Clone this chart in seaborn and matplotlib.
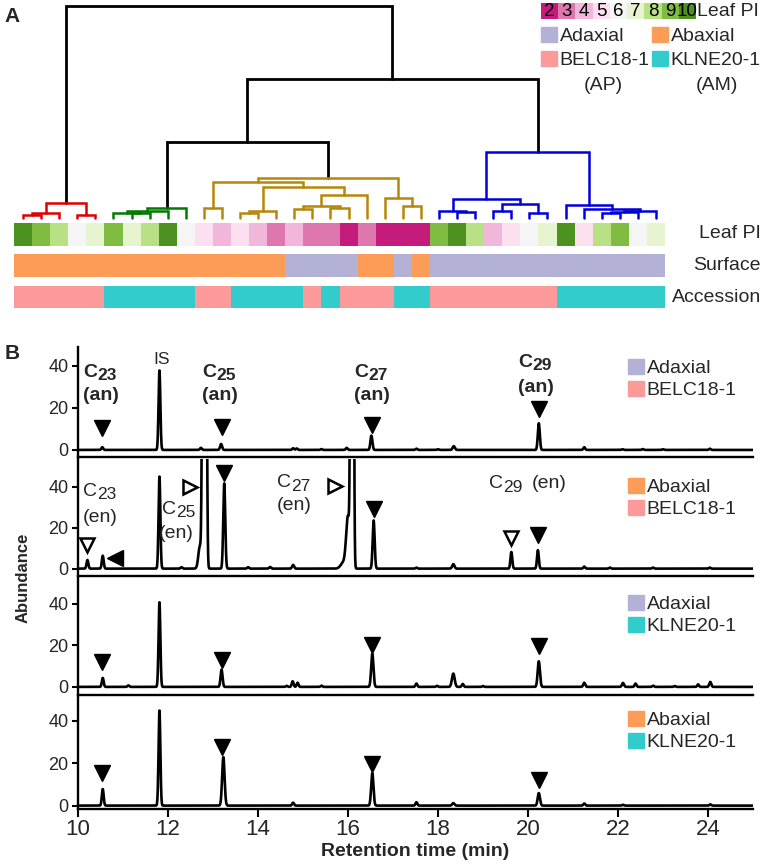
import matplotlib.pyplot as plt
import numpy as np
import seaborn as sns
from matplotlib.colors import ListedColormap
from matplotlib.patches import Patch
from matplotlib.transforms import offset_copy

# ---------------- panel A data ----------------
leaf_pi = [10, 9, 8, 6, 7, 9, 7, 8, 10, 6, 5, 4, 5, 4, 3, 4, 3, 3, 2, 3, 2, 2, 2,
           9, 10, 8, 4, 5, 6, 7, 10, 5, 8, 9, 6, 7]
surface = ['Abaxial', 'Abaxial', 'Abaxial', 'Abaxial', 'Abaxial', 'Abaxial', 'Abaxial',
           'Abaxial', 'Abaxial', 'Abaxial', 'Abaxial', 'Abaxial', 'Abaxial', 'Abaxial',
           'Abaxial', 'Adaxial', 'Adaxial', 'Adaxial', 'Adaxial', 'Abaxial', 'Abaxial',
           'Adaxial', 'Abaxial', 'Adaxial', 'Adaxial', 'Adaxial', 'Adaxial', 'Adaxial',
           'Adaxial', 'Adaxial', 'Adaxial', 'Adaxial', 'Adaxial', 'Adaxial', 'Adaxial',
           'Adaxial']
accession = ['BELC18-1', 'BELC18-1', 'BELC18-1', 'BELC18-1', 'BELC18-1',
             'KLNE20-1', 'KLNE20-1', 'KLNE20-1', 'KLNE20-1', 'KLNE20-1',
             'BELC18-1', 'BELC18-1', 'KLNE20-1', 'KLNE20-1', 'KLNE20-1', 'KLNE20-1',
             'BELC18-1', 'KLNE20-1', 'BELC18-1', 'BELC18-1', 'BELC18-1',
             'KLNE20-1', 'KLNE20-1', 'BELC18-1', 'BELC18-1', 'BELC18-1', 'BELC18-1',
             'BELC18-1', 'BELC18-1', 'BELC18-1', 'KLNE20-1', 'KLNE20-1', 'KLNE20-1',
             'KLNE20-1', 'KLNE20-1', 'KLNE20-1']

# linkage: leaves are 0-35, merge k creates node 36+k
link_left = [0, 36, 3, 37, 6, 5, 41, 42, 10, 12, 45, 15, 17, 47, 49, 46, 44, 21, 20, 52,
             24, 23, 26, 28, 58, 57, 32, 62, 63, 31, 30, 61, 43, 68, 39]
link_right = [1, 2, 4, 38, 7, 40, 8, 9, 11, 13, 14, 16, 18, 48, 19, 50, 51, 22, 53, 54,
              25, 56, 27, 29, 59, 60, 33, 34, 35, 64, 65, 66, 55, 67, 69]
link_height = [3.0, 4.7, 3.0, 14.7, 5.0, 5.5, 7.3, 9.7, 10.3, 5.3, 7.3, 8.7, 9.7, 12.3,
               23.0, 30.7, 35.7, 12.3, 19.7, 39.7, 6.5, 7.3, 7.3, 4.7, 14.0, 19.0, 5.5,
               6.5, 7.5, 9.0, 13.0, 66.3, 76.0, 139.0, 212.0]
cut_height = 70

pi_levels = [2, 3, 4, 5, 6, 7, 8, 9, 10]
pi_colors = ['#c51b7d', '#de77ae', '#f1b6da', '#fde0ef', '#f5f5f5',
             '#e6f5d0', '#b8e186', '#7fbc41', '#4d9221']
cluster_colors = ['#dd0000', '#007a00', '#b8860b', '#0000dd']
surface_colors = {'Adaxial': '#b4b1d6', 'Abaxial': '#fc9c56'}
accession_colors = {'BELC18-1': '#fb9a99', 'KLNE20-1': '#33cccc'}

# ---------------- panel B data (retention time, height, peak width) ----------------
p1_rt = [10.54, 11.81, 12.73, 13.18, 14.78, 14.86, 15.41, 15.97, 16.52, 17.52, 18.0,
         18.35, 20.24, 21.25, 22.1, 22.55, 23.0, 24.04]
p1_h = [1.3, 37.8, 1.0, 2.8, 0.8, 0.7, 0.4, 1.0, 6.8, 0.6, 0.3, 1.8, 12.7, 1.3, 0.3,
        0.4, 0.3, 0.6]
p1_w = [0.02, 0.02, 0.02, 0.022, 0.02, 0.02, 0.02, 0.02, 0.022, 0.02, 0.02, 0.025,
        0.022, 0.02, 0.02, 0.02, 0.02, 0.02]

p2_rt = [10.21, 10.55, 11.81, 12.3, 12.71, 12.78, 12.84, 13.25, 13.78, 14.27, 14.78,
         15.9, 16.0, 16.07, 16.11, 16.57, 17.52, 18.34, 19.63, 20.22, 21.25, 21.82,
         22.78, 24.04]
p2_h = [4.2, 6.3, 44.9, 0.7, 11.0, 200.0, 200.0, 41.6, 0.7, 0.8, 1.8, 3.0, 25.0, 250.0,
        250.0, 23.5, 0.5, 2.2, 8.1, 9.0, 1.0, 0.5, 0.5, 0.5]
p2_w = [0.02, 0.02, 0.02, 0.02, 0.035, 0.02, 0.02, 0.022, 0.02, 0.02, 0.022, 0.06,
        0.04, 0.018, 0.018, 0.022, 0.02, 0.025, 0.02, 0.02, 0.02, 0.02, 0.02, 0.02]

p3_rt = [10.55, 11.12, 11.81, 13.19, 14.64, 14.77, 14.88, 15.41, 16.54, 17.52, 17.98,
         18.34, 18.55, 19.0, 20.24, 21.25, 22.11, 22.39, 22.78, 23.26, 23.78, 24.05]
p3_h = [4.3, 0.7, 40.7, 8.3, 0.5, 2.7, 2.0, 0.6, 16.0, 1.6, 0.5, 6.4, 1.4, 0.4, 12.3,
        2.0, 1.9, 1.6, 0.6, 0.4, 1.2, 2.4]
p3_w = [0.02, 0.02, 0.02, 0.022, 0.02, 0.02, 0.02, 0.02, 0.025, 0.02, 0.02, 0.03,
        0.02, 0.02, 0.025, 0.022, 0.022, 0.02, 0.02, 0.02, 0.02, 0.022]

p4_rt = [10.55, 11.81, 13.23, 14.78, 16.54, 17.52, 18.34, 20.24, 21.25, 22.11, 24.05]
p4_h = [7.8, 44.9, 22.9, 1.4, 15.4, 1.6, 1.2, 5.9, 1.0, 0.4, 0.6]
p4_w = [0.02, 0.02, 0.027, 0.02, 0.025, 0.02, 0.025, 0.025, 0.02, 0.02, 0.02]

# arrow heads: filled down (alkanes), open down / open right (alkenes), filled left
p1_an_rt = [10.54, 13.2, 16.54, 20.24]
p1_an_y = [10.3, 10.8, 11.7, 19.4]
p2_an_rt = [13.25, 16.57, 20.22]
p2_an_y = [46.5, 29.3, 16.4]
p2_en_rt = [10.21, 19.63]
p2_en_y = [11.5, 15.0]
p2_right_rt = [12.48, 15.72]
p2_right_y = [40.0, 40.5]
p2_left_rt = [10.82]
p2_left_y = [5.1]
p3_an_rt = [10.54, 13.21, 16.54, 20.24]
p3_an_y = [11.8, 13.1, 20.3, 19.9]
p4_an_rt = [10.54, 13.21, 16.54, 20.24]
p4_an_y = [15.4, 27.7, 19.7, 12.2]

# peak labels: chain length (C + subscript) and the (an)/(en) note
p1_chain = ['23', '25', '27', '29']
p1_chain_rt = [10.50, 13.15, 16.53, 20.17]
p1_chain_y = [37.0, 37.0, 37.0, 41.8]
p1_note_y = [25.8, 25.8, 25.8, 29.5]
p1_is_rt, p1_is_y = 11.86, 43.2
p2_chain = ['23', '25', '27', '29']
p2_chain_rt = [10.50, 12.25, 14.82, 19.52]
p2_chain_y = [37.8, 29.0, 42.0, 41.5]
p2_note_rt = [10.49, 12.19, 14.80, 20.46]
p2_note_y = [25.0, 17.0, 30.8, 41.3]

panel_surface = ['Adaxial', 'Abaxial', 'Adaxial', 'Abaxial']
panel_accession = ['BELC18-1', 'BELC18-1', 'KLNE20-1', 'KLNE20-1']

# ---------------- style ----------------
sns.set_theme(style='ticks')
plt.rcParams['font.family'] = ['Liberation Sans', 'DejaVu Sans']
plt.rcParams['axes.linewidth'] = 1.7
plt.rcParams['axes.edgecolor'] = 'black'

W, H = 762, 864
fig = plt.figure(figsize=(W / 100, H / 100), dpi=100)


def box(left, top, right, bottom):
    return [left / W, 1 - bottom / H, (right - left) / W, (bottom - top) / H]


# ---------------- dendrogram ----------------
n = len(leaf_pi)
ax_d = fig.add_axes(box(14, 0, 665, 218))
xpos = {i: i + 0.5 for i in range(n)}
hpos = {i: 0.0 for i in range(n)}
for k in range(len(link_height)):
    xpos[n + k] = (xpos[link_left[k]] + xpos[link_right[k]]) / 2
    hpos[n + k] = link_height[k]

col_iter = iter(cluster_colors)


def draw_link(node, col):
    if node < n:
        return
    k = node - n
    h = link_height[k]
    if col is None and h < cut_height:
        col = next(col_iter)
    a, b = link_left[k], link_right[k]
    ax_d.plot([xpos[a], xpos[a], xpos[b], xpos[b]], [hpos[a], h, h, hpos[b]],
              color=col if col else 'black', lw=1.8 if col else 2.0,
              solid_joinstyle='miter', clip_on=False)
    draw_link(a, col)
    draw_link(b, col)


draw_link(2 * n - 2, None)
ax_d.set_xlim(0, n)
ax_d.set_ylim(0, 218)
ax_d.axis('off')

# ---------------- annotation strips ----------------
ax_pi = fig.add_axes(box(14, 223, 665, 246))
sns.heatmap(np.array([leaf_pi]), ax=ax_pi, cmap=ListedColormap(pi_colors), vmin=1.5,
            vmax=10.5, cbar=False, xticklabels=False, yticklabels=False)

surf_levels = ['Adaxial', 'Abaxial']
ax_s = fig.add_axes(box(14, 254, 665, 277))
sns.heatmap(np.array([[surf_levels.index(s) for s in surface]]), ax=ax_s,
            cmap=ListedColormap([surface_colors[s] for s in surf_levels]),
            vmin=-0.5, vmax=1.5, cbar=False, xticklabels=False, yticklabels=False)

acc_levels = ['BELC18-1', 'KLNE20-1']
ax_a = fig.add_axes(box(14, 286, 665, 308))
sns.heatmap(np.array([[acc_levels.index(s) for s in accession]]), ax=ax_a,
            cmap=ListedColormap([accession_colors[s] for s in acc_levels]),
            vmin=-0.5, vmax=1.5, cbar=False, xticklabels=False, yticklabels=False)

for label, yc in zip(['Leaf PI', 'Surface', 'Accession'], [234, 265, 297]):
    fig.text(761 / W, 1 - yc / H, label, ha='right', va='center', fontsize=14)

# legend of panel A
ax_key = fig.add_axes(box(541, 3, 696, 19))
sns.heatmap(np.array([pi_levels]), ax=ax_key, cmap=ListedColormap(pi_colors), vmin=1.5,
            vmax=10.5, cbar=False, xticklabels=False, yticklabels=False, annot=True,
            fmt='d', annot_kws={'fontsize': 13.5, 'color': 'black'})
fig.text(697 / W, 1 - 11 / H, 'Leaf PI', ha='left', va='center', fontsize=14)

key_handles = [Patch(color=surface_colors['Adaxial']), Patch(color=accession_colors['BELC18-1']),
               Patch(color=surface_colors['Abaxial']), Patch(color=accession_colors['KLNE20-1'])]
fig.legend(key_handles, ['Adaxial', 'BELC18-1', 'Abaxial', 'KLNE20-1'], ncol=2,
           loc='upper left', bbox_to_anchor=(541 / W, 1 - 27 / H), frameon=False,
           fontsize=14, handlelength=0.8, handleheight=0.8, handletextpad=0.15,
           columnspacing=0.15, labelspacing=0.28, borderpad=0, borderaxespad=0)
fig.text(603 / W, 1 - 85 / H, '(AP)', ha='center', va='center', fontsize=14)
fig.text(717 / W, 1 - 85 / H, '(AM)', ha='center', va='center', fontsize=14)

fig.text(12 / W, 1 - 17 / H, 'A', ha='center', va='center', fontsize=15, fontweight='bold')
fig.text(12 / W, 1 - 353 / H, 'B', ha='center', va='center', fontsize=15, fontweight='bold')

# ---------------- chromatograms ----------------
t = np.linspace(10, 25, 6001)


def trace(rt, h, w):
    rt, h, w = np.asarray(rt), np.asarray(h), np.asarray(w)
    return (h[:, None] * np.exp(-0.5 * ((t[None, :] - rt[:, None]) / w[:, None]) ** 2)).sum(axis=0)


def chain_label(ax, rt, y, digits, weight):
    # "C" with a lowered, slightly smaller chain number, centred on rt
    anchor = rt - 0.08
    ax.text(anchor, y, 'C', ha='right', va='center', fontsize=14, fontweight=weight)
    ax.text(anchor, y, digits, ha='left', va='center', fontsize=12.5, fontweight=weight,
            transform=offset_copy(ax.transData, fig=fig, x=0, y=-2.5, units='points'))


panel_boxes = [(347, 457.5), (459, 576), (578, 695), (697, 809)]
panel_ylim = [(-3.6, 49.0), (-3.6, 53.5), (-3.9, 52.4), (-1.6, 51.3)]
panel_peaks = [(p1_rt, p1_h, p1_w), (p2_rt, p2_h, p2_w), (p3_rt, p3_h, p3_w), (p4_rt, p4_h, p4_w)]
panel_an = [(p1_an_rt, p1_an_y), (p2_an_rt, p2_an_y), (p3_an_rt, p3_an_y), (p4_an_rt, p4_an_y)]
legend_tops = [359, 478, 595, 711]

axes = []
for i in range(4):
    top, bottom = panel_boxes[i]
    ax = fig.add_axes(box(78, top, 753, bottom))
    axes.append(ax)
    sns.lineplot(x=t, y=trace(*panel_peaks[i]), ax=ax, color='black', linewidth=1.9,
                 errorbar=None)
    ax.plot(panel_an[i][0], panel_an[i][1], 'v', color='black', ms=11.5, clip_on=False)
    ax.set_xlim(10, 25)
    ax.set_ylim(*panel_ylim[i])
    ax.set_yticks([0, 20, 40])
    ax.tick_params(axis='y', labelsize=13, length=4, width=1.5, pad=3, color='black')
    if i < 3:
        ax.tick_params(axis='x', bottom=False, labelbottom=False)
    sns.despine(ax=ax)
    ax.legend([Patch(color=surface_colors[panel_surface[i]]),
               Patch(color=accession_colors[panel_accession[i]])],
              [panel_surface[i], panel_accession[i]], loc='upper left',
              bbox_to_anchor=(628 / W, 1 - legend_tops[i] / H), bbox_transform=fig.transFigure,
              frameon=False, fontsize=14, handlelength=0.8, handleheight=0.8,
              handletextpad=0.15, labelspacing=0.2, borderpad=0, borderaxespad=0)

ax1, ax2, ax3, ax4 = axes
for d, x, y, y2 in zip(p1_chain, p1_chain_rt, p1_chain_y, p1_note_y):
    chain_label(ax1, x, y, d, 'bold')
    ax1.text(x, y2, '(an)', ha='center', va='center', fontsize=14, fontweight='bold')
ax1.text(p1_is_rt, p1_is_y, 'IS', ha='center', va='center', fontsize=12.5)
for d, x, y in zip(p2_chain, p2_chain_rt, p2_chain_y):
    chain_label(ax2, x, y, d, 'normal')
for x, y in zip(p2_note_rt, p2_note_y):
    ax2.text(x, y, '(en)', ha='center', va='center', fontsize=14)

ax2.plot(p2_en_rt, p2_en_y, 'v', mfc='white', mec='black', mew=1.8, ms=10, ls='none')
ax2.plot(p2_right_rt, p2_right_y, '>', mfc='white', mec='black', mew=1.8, ms=10, ls='none')
ax2.plot(p2_left_rt, p2_left_y, '<', color='black', ms=11.5, ls='none')

ax4.set_xticks(range(10, 25, 2))
ax4.tick_params(axis='x', labelsize=16, length=6, width=1.5, pad=1, color='black')
ax4.set_xlabel('Retention time (min)', fontsize=14, fontweight='bold', labelpad=2)
fig.text(23 / W, 1 - 578 / H, 'Abundance', rotation=90, ha='center', va='center',
         fontsize=12, fontweight='bold')

fig.savefig('out.png', dpi=100)
